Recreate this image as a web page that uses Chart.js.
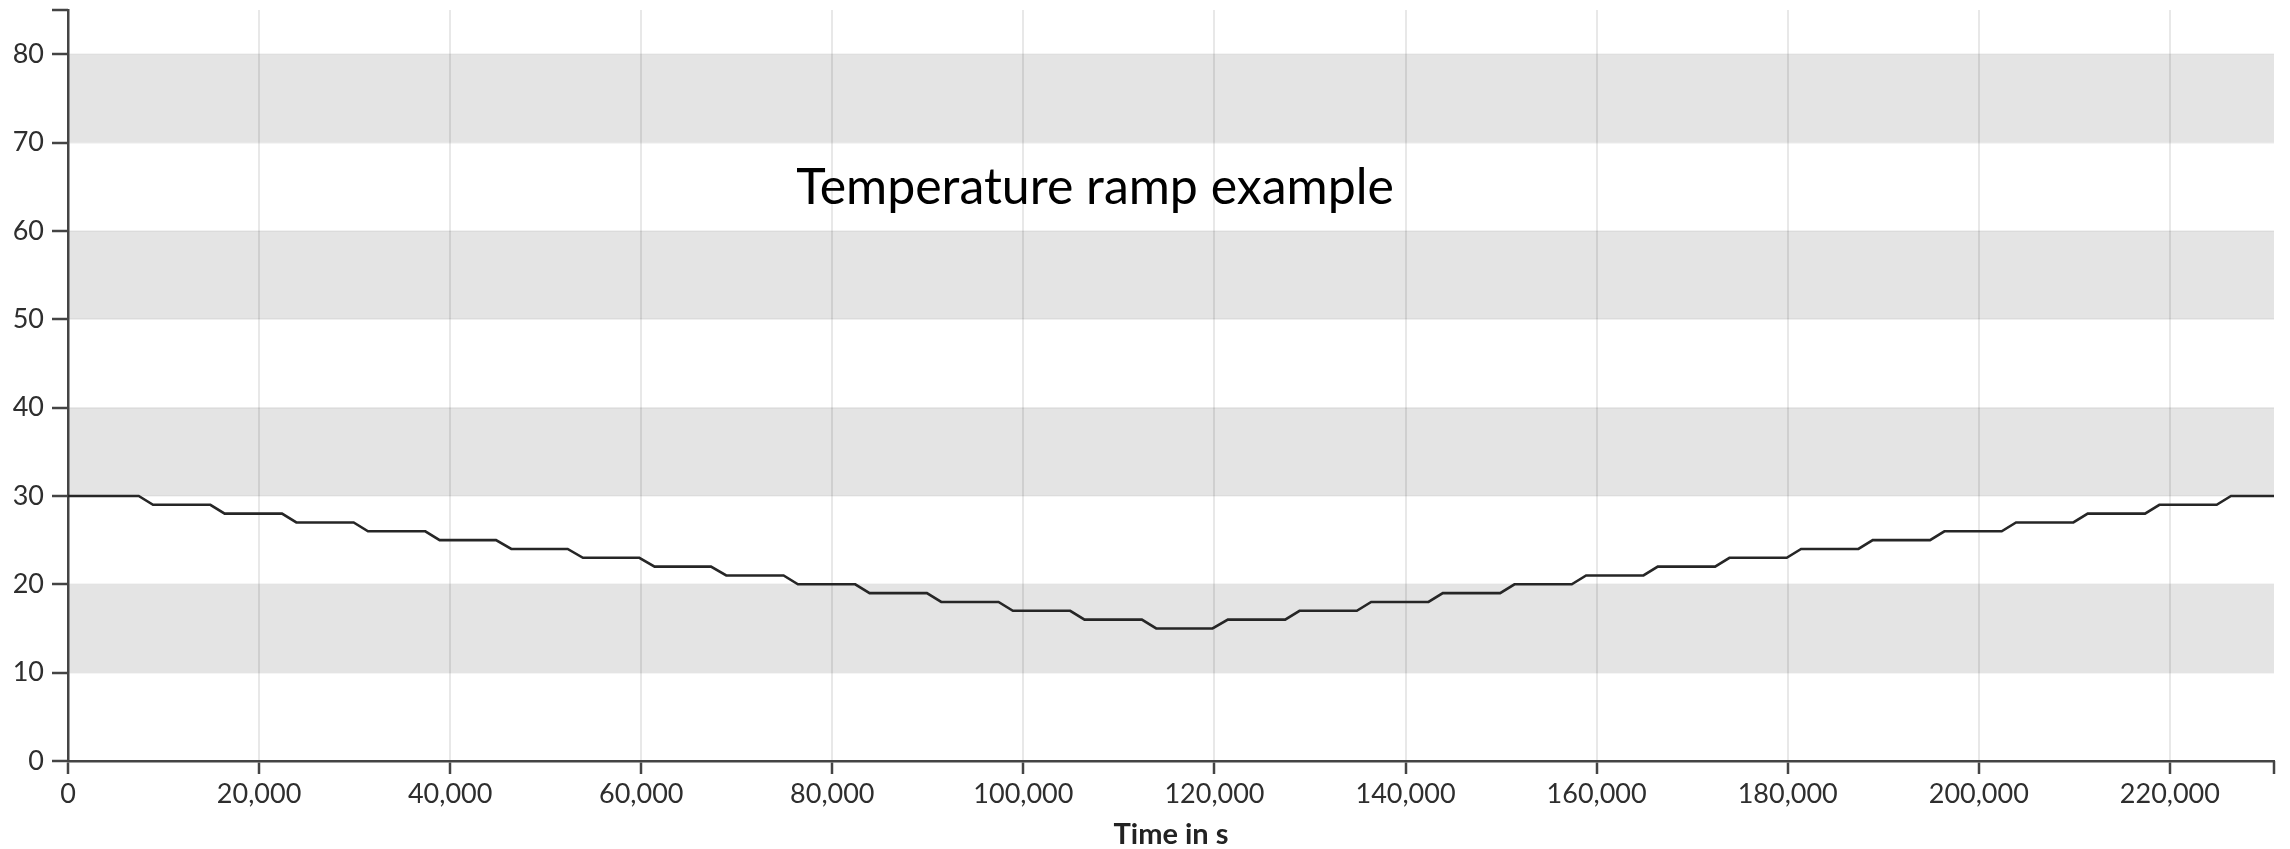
<!DOCTYPE html>
<html>
<head>
<meta charset="utf-8">
<script src="https://cdn.jsdelivr.net/npm/chart.js@4/dist/chart.umd.min.js"></script>
<style>
html,body{margin:0;padding:0;background:#fff}
#wrap{width:2290px;height:849px}
</style>
</head>
<body>
<div id="wrap"><canvas id="ramp" width="2290" height="849"></canvas></div>
<script>

// time in seconds, temperature at that time (start and end of every hold)
let times=[
0,7400, 8900,14900, 16400,22400, 23900,29900, 31400,37400,
38900,44800, 46400,52300, 53900,59800, 61400,67300, 68900,74900,
76400,82400, 83900,89900, 91400,97400, 98900,104900, 106400,112400,
113900,119800,
121400,127400, 128900,134900, 136400,142400, 143900,149900, 151400,157400,
158900,164900, 166400,172400, 173900,179900, 181400,187400, 188900,194900,
196400,202400, 203900,209900, 211400,217400, 218900,224900, 226400,230900
]
let temps=[
30,30, 29,29, 28,28, 27,27, 26,26,
25,25, 24,24, 23,23, 22,22, 21,21,
20,20, 19,19, 18,18, 17,17, 16,16,
15,15,
16,16, 17,17, 18,18, 19,19, 20,20,
21,21, 22,22, 23,23, 24,24, 25,25,
26,26, 27,27, 28,28, 29,29, 30,30
]

let xTicks=[0,20000,40000,60000,80000,100000,120000,140000,160000,180000,200000,220000]
let yTicks=[0,10,20,30,40,50,60,70,80]
let xMax=230900
let yMax=85

// shaded rows behind the plot
let bands=[[10,20],[30,40],[50,60],[70,80]]

let chartTitle="Temperature ramp example"
let titleAt={x:107500,y:63}

const axisColor="#444"
const labelFont={family:"Lato",size:27}

const bandPlugin={
id:"bands",
beforeDraw(chart){
const ctx=chart.ctx
const area=chart.chartArea
const y=chart.scales.y
ctx.save()
ctx.fillStyle="#e4e4e4"
bands.forEach(b=>{
let top=y.getPixelForValue(b[1])
let bottom=y.getPixelForValue(b[0])
ctx.fillRect(area.left,top,area.right-area.left,bottom-top)
})
ctx.restore()
}
}

const capsPlugin={
id:"caps",
afterDraw(chart){
const ctx=chart.ctx
const area=chart.chartArea
ctx.save()
ctx.strokeStyle=axisColor
ctx.lineWidth=2.5
ctx.beginPath()
ctx.moveTo(area.left-16,area.top)
ctx.lineTo(area.left,area.top)
ctx.moveTo(area.right,area.bottom)
ctx.lineTo(area.right,area.bottom+13)
ctx.stroke()

ctx.fillStyle="#000"
ctx.font="50px Lato"
ctx.textAlign="center"
ctx.textBaseline="alphabetic"
ctx.fillText(chartTitle,chart.scales.x.getPixelForValue(titleAt.x),chart.scales.y.getPixelForValue(titleAt.y))
ctx.restore()
}
}

const ctx=document.getElementById("ramp")

let chart=new Chart(ctx,{
type:"line",
data:{
datasets:[{
data:times.map((t,i)=>({x:t,y:temps[i]})),
borderColor:"#262626",
borderWidth:2.6,
pointRadius:0,
tension:0,
fill:false
}]
},
options:{
responsive:false,
animation:false,
layout:{padding:{top:10,right:16,left:0,bottom:0}},
plugins:{legend:{display:false},tooltip:{enabled:false}},
scales:{
x:{
type:"linear",
min:0,
max:xMax,
afterFit(s){s.height=88;s.paddingLeft=0;s.paddingRight=0},
afterBuildTicks(s){s.ticks=xTicks.map(v=>({value:v}))},
border:{color:axisColor,width:2.5},
grid:{color:"rgba(0,0,0,0.09)",lineWidth:2,tickColor:axisColor,tickWidth:2.5,tickLength:13},
ticks:{color:"#2e2e2e",font:labelFont,padding:4,maxRotation:0,autoSkip:false},
title:{display:true,text:"Time in s",color:"#222",font:{family:"Lato",size:29,weight:"bold",lineHeight:1},padding:{top:0,bottom:0}}
},
y:{
min:0,
max:yMax,
afterFit(s){s.width=68;s.paddingTop=0;s.paddingBottom=0},
afterBuildTicks(s){s.ticks=yTicks.map(v=>({value:v}))},
border:{color:axisColor,width:2.5},
grid:{color:"rgba(0,0,0,0.04)",lineWidth:2,tickColor:axisColor,tickWidth:2.5,tickLength:16},
ticks:{color:"#2e2e2e",font:labelFont,padding:8}
}
}
},
plugins:[bandPlugin,capsPlugin]
})

</script>
</body>
</html>
